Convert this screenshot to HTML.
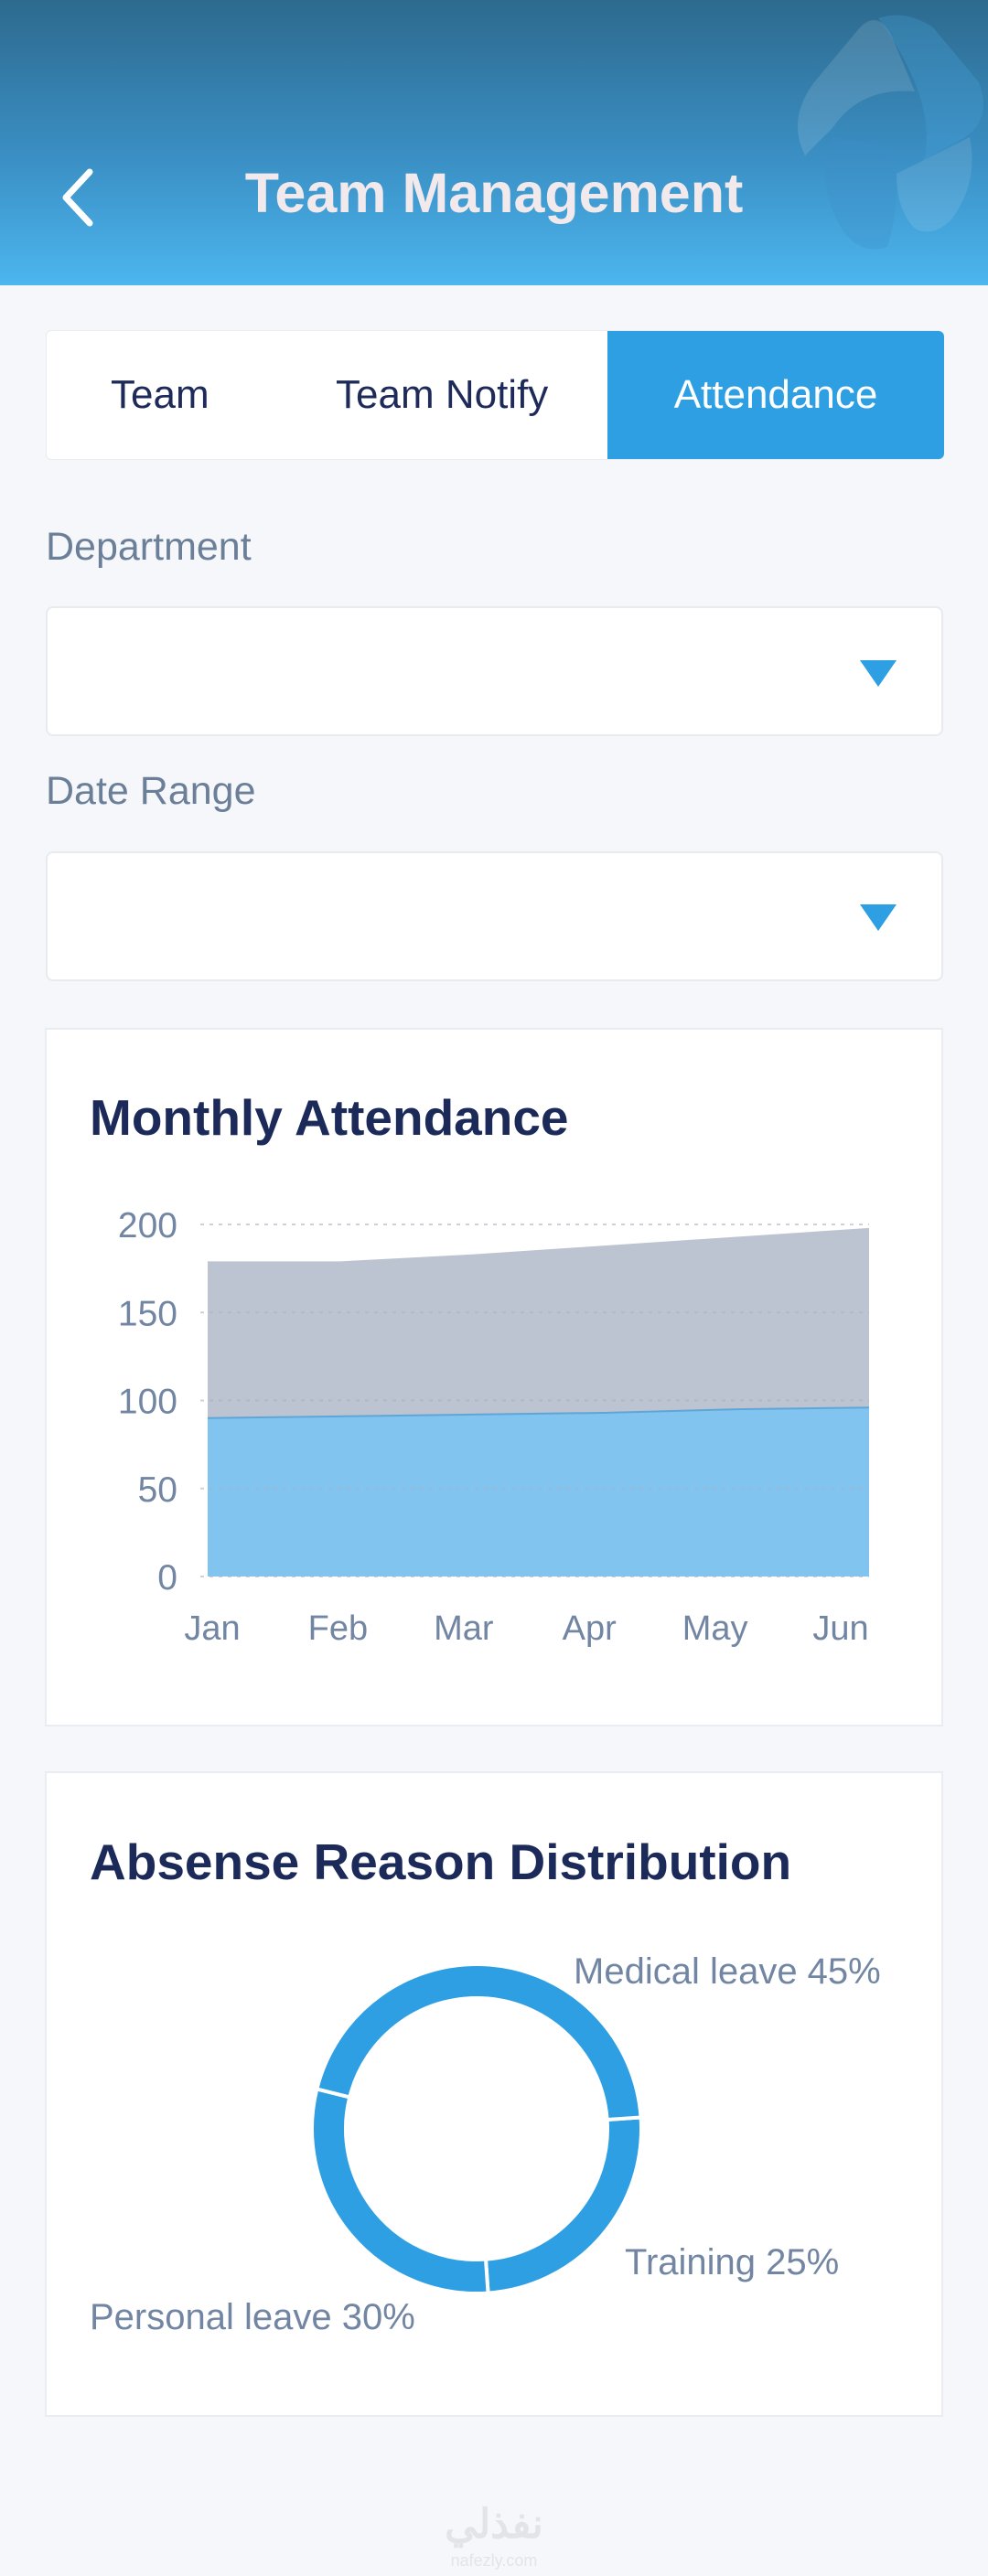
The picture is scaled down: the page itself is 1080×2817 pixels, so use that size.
<!DOCTYPE html>
<html><head><meta charset="utf-8">
<style>
*{margin:0;padding:0;box-sizing:border-box}
body{width:1080px;height:2817px;background:#f5f7fb;font-family:"Liberation Sans",sans-serif;position:relative;overflow:hidden}
.abs{position:absolute}
.header{left:0;top:0;width:1080px;height:312px;background:linear-gradient(180deg,#2d6a8e 0%,#3a8fc4 55%,#4cb6ee 100%);overflow:hidden}
.title{left:0;width:1080px;top:176px;text-align:center;font-size:61px;font-weight:bold;color:#f1e9ec}
.tabs{left:50px;top:361px;width:981px;height:142px;background:#fff;border:1px solid #e8ebf0;border-radius:6px}
.tab{position:absolute;top:0;height:140px;line-height:140px;font-size:44px;color:#1d2a5a}
.tab.active{left:613px;width:368px;background:#2f9fe3;color:#fff;text-align:center;border-radius:0 6px 6px 0}
.label{font-size:43px;color:#6b7f99;left:50px}
.dd{left:50px;width:981px;height:142px;background:#fff;border:2px solid #e7eaef;border-radius:8px}
.tri{width:0;height:0;border-left:20px solid transparent;border-right:20px solid transparent;border-top:29px solid #2f9fe3}
.card{left:49px;width:982px;background:#fff;border:2px solid #e9ecf1}
.ctitle{font-size:55px;font-weight:bold;color:#1c2a5a;left:98px}
</style></head><body>
<div class="abs header">
  <svg class="abs" style="left:800px;top:0" width="280" height="312">
    <path d="M80 170 Q60 130 90 90 L140 30 Q160 10 175 40 L200 100 Q140 95 110 140 Z" fill="#ffffff" opacity="0.12"/>
    <path d="M160 20 Q190 10 220 30 L270 90 Q285 130 255 150 L210 175 Q225 110 160 20 Z" fill="#4aa3dc" opacity="0.3"/>
    <path d="M110 150 Q90 200 120 250 Q140 280 170 270 Q190 200 170 160 Z" fill="#3f8fc8" opacity="0.3"/>
    <path d="M180 190 L260 150 Q270 200 240 240 Q220 260 200 250 Q180 230 180 190 Z" fill="#ffffff" opacity="0.1"/>
  </svg>
  <svg class="abs" style="left:62px;top:182px" width="46" height="68"><polyline points="36,6 10,34 36,62" fill="none" stroke="#fff" stroke-width="7" stroke-linecap="round" stroke-linejoin="round"/></svg>
  <div class="abs title">Team Management</div>
</div>

<div class="abs tabs">
  <div class="tab" style="left:70px">Team</div>
  <div class="tab" style="left:316px">Team Notify</div>
  <div class="tab active">Attendance</div>
</div>

<div class="abs label" style="top:574px">Department</div>
<div class="abs dd" style="top:663px">
  <div class="abs tri" style="left:888px;top:57px"></div>
</div>
<div class="abs label" style="top:841px">Date Range</div>
<div class="abs dd" style="top:931px">
  <div class="abs tri" style="left:888px;top:56px"></div>
</div>

<div class="abs card" style="top:1124px;height:764px"></div>
<div class="abs ctitle" style="top:1190px">Monthly Attendance</div>
<svg class="abs" id="area" style="left:0;top:0" width="1080" height="1900"></svg>

<div class="abs card" style="top:1937px;height:706px"></div>
<div class="abs ctitle" style="top:2004px">Absense Reason Distribution</div>
<svg class="abs" id="donut" style="left:0;top:0" width="1080" height="2700"></svg>

<div class="abs" style="left:0;width:1080px;top:2735px;text-align:center;font-size:44px;font-weight:bold;color:#e2e4e8;font-family:'Liberation Sans','Noto Sans CJK SC',sans-serif">نفذلي</div>
<div class="abs" style="left:0;width:1080px;top:2790px;text-align:center;font-size:18px;color:#e2e4e8">nafezly.com</div>

<script>
const months=["Jan","Feb","Mar","Apr","May","Jun"];
const present=[90,91,92,93,95,96];
const absent=[89,88,91,95,98,102];
const yTicks=[0,50,100,150,200];

const reasons=["Medical leave","Training","Personal leave"];
const shares=[45,25,30];

const NS="http://www.w3.org/2000/svg";
function mk(parent,tag,attrs){const e=document.createElementNS(NS,tag);for(const k in attrs)e.setAttribute(k,attrs[k]);parent.appendChild(e);return e;}

(function(){
const svg=document.getElementById('area');
const x0=227,x1=950,y0=1724,y1=1339,vmax=200;
const xs=i=>x0+i*(x1-x0)/(months.length-1);
const ys=v=>y0-(v/vmax)*(y0-y1);
const tot=present.map((p,i)=>p+absent[i]);
let dT=`M${xs(0)},${y0}`;tot.forEach((v,i)=>dT+=` L${xs(i)},${ys(v)}`);dT+=` L${xs(months.length-1)},${y0} Z`;
const ga=mk(svg,'path',{d:dT,fill:'#bcc3d1'});


let dP=`M${xs(0)},${y0}`;present.forEach((v,i)=>dP+=` L${xs(i)},${ys(v)}`);dP+=` L${xs(months.length-1)},${y0} Z`;
const pa=mk(svg,'path',{d:dP,fill:'#80c4ef'});


let dl='';present.forEach((v,i)=>dl+=(i?' L':'M')+xs(i)+','+ys(v));
const pl=mk(svg,'path',{d:dl,fill:'none',stroke:'#5fa6d8','stroke-width':2});


yTicks.forEach(t=>{
  const l=mk(svg,'line',{x1:219,x2:950,y1:ys(t),y2:ys(t),stroke:'#aab2c2','stroke-opacity':0.6,'stroke-width':2,'stroke-dasharray':'4,6'});
  
  
  const tx=mk(svg,'text',{x:194,y:ys(t)+14,'text-anchor':'end','font-size':39,fill:'#7286a3','font-family':'Liberation Sans'});
  tx.textContent=t;
  
  
});
months.forEach((m,i)=>{
  const lx=232+i*(919-232)/(months.length-1);
  const t=mk(svg,'text',{x:lx,y:1793,'text-anchor':'middle','font-size':38,fill:'#7286a3','font-family':'Liberation Sans'});
  t.textContent=m;
  
  
});
})();

(function(){
const svg=document.getElementById('donut');
const cx=521,cy=2328,rO=180,rI=143;
const total=shares.reduce((a,b)=>a+b,0);
const order=[1,2,0];
let a=-4;
const pt=(r,deg)=>[cx+r*Math.cos(deg*Math.PI/180),cy+r*Math.sin(deg*Math.PI/180)];
order.forEach(k=>{
  const sweep=shares[k]/total*360;
  const a2=a+sweep;
  const large=sweep>180?1:0;
  const p1=pt(rO,a),p2=pt(rO,a2),p3=pt(rI,a2),p4=pt(rI,a);
  const d=`M${p1} A${rO},${rO} 0 ${large} 1 ${p2} L${p3} A${rI},${rI} 0 ${large} 0 ${p4} Z`;
  const s=mk(svg,'path',{d:d,fill:'#2f9fe3',stroke:'#ffffff','stroke-width':4});
  
  
  a=a2;
});
const labelPos=[[627,2169],[683,2487],[98,2547]];
reasons.forEach((r,i)=>{
  const t=mk(svg,'text',{x:labelPos[i][0],y:labelPos[i][1],'text-anchor':'start','font-size':40,fill:'#7286a3','font-family':'Liberation Sans'});
  t.textContent=r+' '+shares[i]+'%';
  
  
});
})();
</script>
</body></html>
